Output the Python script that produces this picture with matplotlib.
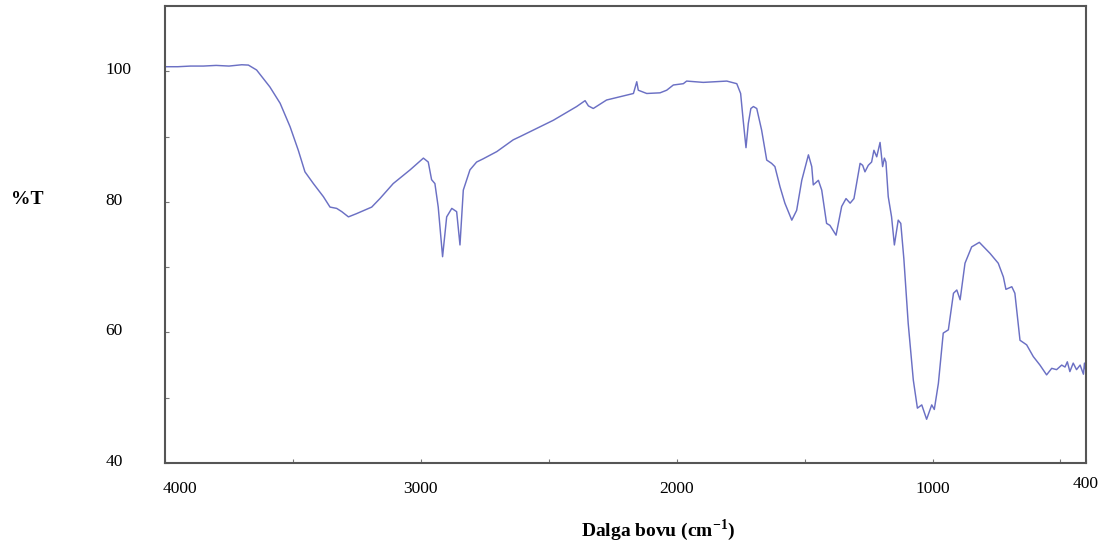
import matplotlib
matplotlib.use("Agg")
import matplotlib.pyplot as plt
from matplotlib.transforms import ScaledTranslation

plt.rcParams['font.family'] = ['Liberation Serif', 'DejaVu Serif']
plt.rcParams['mathtext.fontset'] = 'custom'
plt.rcParams['mathtext.rm'] = 'Liberation Serif'
plt.rcParams['mathtext.bf'] = 'Liberation Serif:bold'

wavenumber = [4000, 3950, 3900, 3850, 3800, 3750, 3700, 3674, 3642, 3590, 3550, 3511,
              3479, 3453, 3420, 3381, 3355, 3329, 3309, 3283, 3251, 3192, 3160, 3108,
              3042, 2990, 2971, 2958, 2945, 2932, 2915, 2899, 2879, 2860, 2847, 2834,
              2808, 2782, 2756, 2703, 2639, 2612, 2482, 2391, 2358, 2345, 2326, 2274,
              2221, 2169, 2156, 2150, 2117, 2065, 2039, 2013, 1974, 1961, 1896, 1804,
              1765, 1750, 1740, 1729, 1720, 1710, 1700, 1687, 1668, 1648, 1629, 1616,
              1596, 1577, 1550, 1531, 1511, 1485, 1472, 1466, 1446, 1433, 1414, 1401,
              1377, 1355, 1338, 1322, 1307, 1283, 1273, 1264, 1251, 1238, 1229, 1218,
              1205, 1195, 1188, 1182, 1173, 1160, 1149, 1134, 1124, 1112, 1095, 1075,
              1059, 1042, 1023, 1003, 993, 977, 958, 938, 918, 905, 892, 873,
              847, 817, 775, 743, 723, 713, 690, 678, 658, 632, 606, 580,
              554, 534, 515, 495, 482, 473, 463, 450, 437, 423, 410, 406, 400]
transmittance = [100.7, 100.7, 100.8, 100.8, 100.9, 100.8, 101.0, 100.95, 100.2, 97.6, 95.1, 91.5,
                 87.9, 84.6, 82.8, 80.8, 79.2, 79.0, 78.5, 77.7, 78.2, 79.2, 80.5, 82.8,
                 84.9, 86.7, 86.1, 83.4, 82.8, 79.2, 71.6, 77.7, 79.0, 78.5, 73.4, 81.8,
                 84.9, 86.1, 86.6, 87.7, 89.5, 90.0, 92.5, 94.6, 95.5, 94.7, 94.3, 95.6,
                 96.1, 96.6, 98.4, 97.1, 96.6, 96.7, 97.1, 97.9, 98.1, 98.5, 98.3, 98.5,
                 98.1, 96.6, 92.5, 88.3, 92.0, 94.3, 94.6, 94.3, 91.0, 86.4, 85.9, 85.4,
                 82.3, 79.8, 77.2, 78.7, 83.3, 87.2, 85.4, 82.6, 83.3, 81.8, 76.7, 76.4,
                 74.9, 79.3, 80.5, 79.8, 80.5, 85.9, 85.6, 84.6, 85.6, 86.1, 87.9, 86.9,
                 89.1, 85.4, 86.7, 86.1, 80.8, 77.7, 73.4, 77.2, 76.7, 71.3, 61.4, 52.7,
                 48.4, 48.9, 46.7, 48.9, 48.2, 52.2, 59.9, 60.4, 66.0, 66.5, 65.0, 70.6,
                 73.1, 73.8, 72.1, 70.6, 68.5, 66.6, 67.0, 66.0, 58.8, 58.1, 56.3, 55.0,
                 53.5, 54.5, 54.3, 55.0, 54.7, 55.5, 54.0, 55.3, 54.3, 55.0, 53.6, 55.3, 54.0]

xtick_values = [4000, 3000, 2000, 1000, 400]
xtick_labels = ['4000', '3000', '2000', '1000', '400']
ytick_values = [40, 60, 80, 100]
ytick_labels = ['40', '60', '80', '100']

fig = plt.figure(figsize=(11.06, 5.45), dpi=100)
ax = fig.add_axes([165/1106, (545-463)/545, (1086-165)/1106, (463-6)/545])

ax.plot(wavenumber, transmittance, color='#6b70c4', linewidth=1.05)

ax.set_xlim(4000, 400)
ax.set_ylim(40, 110)

for s in ax.spines.values():
    s.set_color('#555555')
    s.set_linewidth(1.5)

ax.set_xticks(xtick_values)
ax.set_xticklabels(xtick_labels)
ax.set_xticks(list(range(3500, 400, -500)), minor=True)
ax.set_yticks(ytick_values)
ax.set_yticklabels(ytick_labels)
ax.set_yticks([50, 70, 90], minor=True)

ax.tick_params(axis='both', which='both', direction='in', length=3, width=0.8,
               color='#777777', labelsize=12.5, top=False, right=False)
ax.tick_params(axis='x', which='major', pad=13)
ax.tick_params(axis='y', which='major', pad=43)

for lab in ax.get_yticklabels():
    lab.set_horizontalalignment('left')
    lab.set_transform(lab.get_transform() + ScaledTranslation(0, 3/100, fig.dpi_scale_trans))

xl = ax.get_xticklabels()
xl[0].set_horizontalalignment('left')
xl[0].set_transform(xl[0].get_transform() + ScaledTranslation(-2/100, 0, fig.dpi_scale_trans))
xl[-1].set_transform(xl[-1].get_transform() + ScaledTranslation(0, 5/100, fig.dpi_scale_trans))

fig.text(27/1106, 1 - 200/545, '%T', fontsize=14, fontweight='bold', ha='center', va='center')
fig.text(658/1106, 1 - 530/545, r'Dalga bovu (cm$^{\mathbf{-1}}$)', fontsize=14,
         fontweight='bold', ha='center', va='center')

fig.savefig('out.png', dpi=100)
